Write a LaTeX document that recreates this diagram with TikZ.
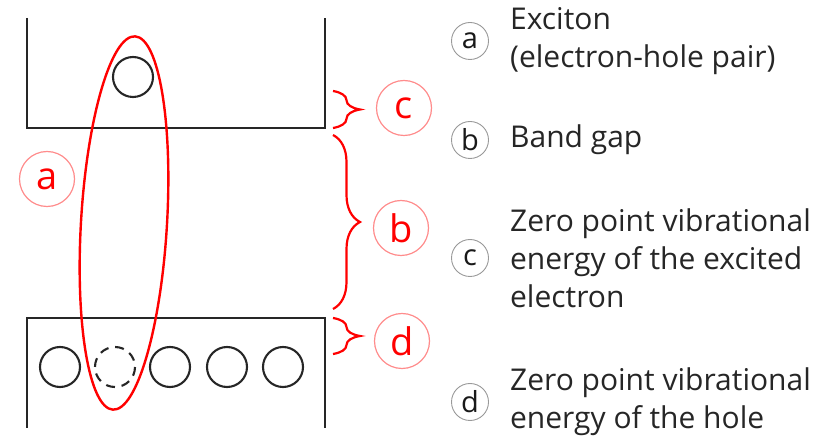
\documentclass[tikz,border=0pt]{standalone}
\usepackage{fontspec}
\setmainfont{Open Sans}
\usetikzlibrary{decorations.pathreplacing,positioning}

\begin{document}
\begin{tikzpicture}[x=1pt, y=-1pt,
  band/.style={line width=2.8pt, black!85},
  level/.style={line width=2.1pt, black!85},
  exciton/.style={red, line width=2.4pt},
  redbrace/.style={red, line width=2.2pt, decorate, decoration={brace, amplitude=27pt}},
  redtag/.style={circle, draw=red!45, line width=1.2pt, minimum size=55pt, inner sep=0pt,
    text=red, font=\fontsize{38}{38}\selectfont},
  keytag/.style={circle, draw=black!40, line width=0.9pt, minimum size=37pt, inner sep=0pt,
    text=black!90, font=\fontsize{29}{29}\selectfont},
  keytext/.style={right=21pt of #1, align=left, inner sep=0pt, text=black!85,
    font=\fontsize{30}{38}\selectfont}]
  \useasboundingbox (0,0) rectangle (836,438);

  % conduction band
  \draw[band] (27,18) -- (27,128) -- (325,128) -- (325,18);
  \draw[level] (133,77) circle (20);

  % valence band
  \draw[band] (27,428) -- (27,318) -- (325,318) -- (325,428);
  \foreach \x in {60,170,227,283} {
    \draw[level] (\x,367) circle (20);
  }
  \draw[level, dash pattern=on 9pt off 6.7pt] (115,367) circle (20);

  % exciton
  \draw[exciton, rotate around={-3.4:(124,223)}] (124,223) ellipse [x radius=43, y radius=187];
  \node[redtag] (ta) at (47,179) {a};

  % braces
  \coordinate (c1) at (333,91);
  \coordinate (c2) at (333,128);
  \coordinate (b1) at (333,135);
  \coordinate (b2) at (333,309);
  \coordinate (d1) at (333,318);
  \coordinate (d2) at (333,354);
  \draw[redbrace] (c1) -- (c2);
  \draw[redbrace] (b1) -- (b2);
  \draw[redbrace] (d1) -- (d2);
  \node[redtag] (tc) at (404,108) {c};
  \node[redtag] (tb) at (401,228) {b};
  \node[redtag] (td) at (402,341) {d};

  % key
  \node[keytag] (ka) at (470,41) {a};
  \node[keytext=ka] (la) {Exciton\\(electron-hole pair)};
  \node[keytag] (kb) at (470,140) {b};
  \node[keytext=kb] (lb) {Band gap};
  \node[keytag] (kc) at (470,258) {c};
  \node[keytext=kc] (lc) {Zero point vibrational\\energy of the excited\\electron};
  \node[keytag] (kd) at (470,402) {d};
  \node[keytext=kd] (ld) {Zero point vibrational\\energy of the hole};
\end{tikzpicture}
\end{document}
